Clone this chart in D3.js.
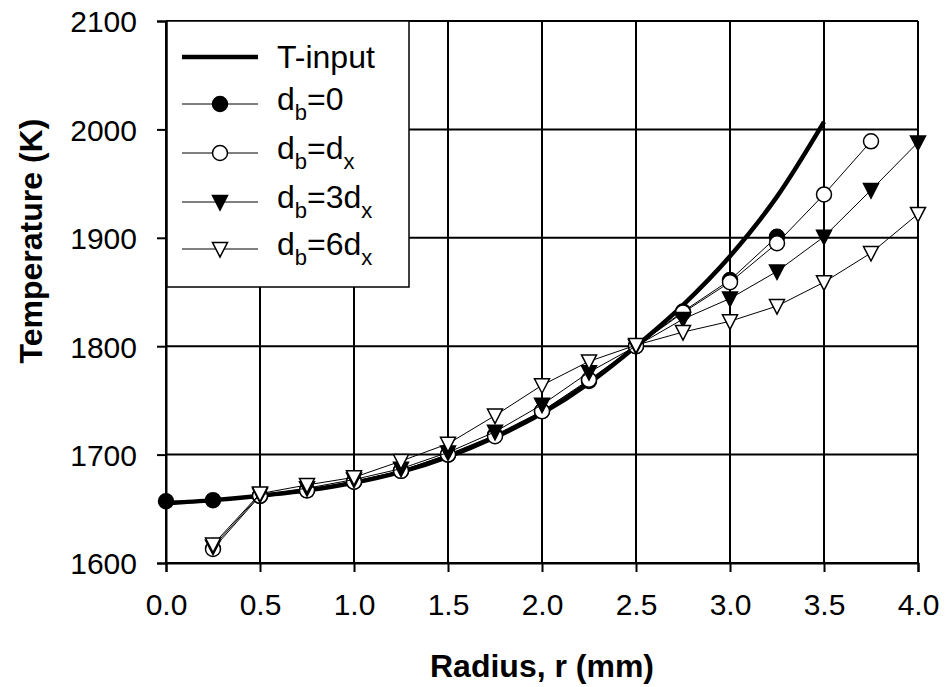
<!DOCTYPE html>
<html>
<head>
<meta charset="utf-8">
<script src="https://cdn.jsdelivr.net/npm/d3@7"></script>
<style>
    body { margin: 0; background: #fff; }
    text { font-family: Arial, "Liberation Sans", sans-serif; fill: #000; }
</style>
</head>
<body>
<div id="chart"></div>
<script>
// radius positions (mm)
const radii = [0, 0.25, 0.5, 0.75, 1.0, 1.25, 1.5, 1.75, 2.0, 2.25, 2.5, 2.75, 3.0, 3.25, 3.5, 3.75, 4.0];

// input temperature profile (K), r = 0 .. 3.5
const tInput = [1655, 1658, 1662, 1667, 1674, 1684, 1698, 1716, 1738, 1766, 1800, 1838, 1883, 1938, 2007];

// computed profiles, first value belongs to radii[start]
const db0 = [1657, 1658, 1662, 1667, 1675, 1685, 1700, 1718, 1740, 1768, 1800, 1832, 1861, 1901];
const dbDx = [1613, 1662, 1667, 1675, 1685, 1700, 1717, 1740, 1769, 1800, 1831, 1859, 1895, 1940, 1989];
const db3Dx = [1615, 1663, 1669, 1677, 1687, 1702, 1721, 1746, 1776, 1800, 1825, 1844, 1869, 1901, 1944, 1988];
const db6Dx = [1617, 1664, 1672, 1679, 1694, 1710, 1736, 1764, 1786, 1801, 1813, 1823, 1837, 1859, 1886, 1922];

const xTicks = [0, 0.5, 1.0, 1.5, 2.0, 2.5, 3.0, 3.5, 4.0];
const yTicks = [1600, 1700, 1800, 1900, 2000, 2100];

const width = 947, height = 687;
const margin = {top: 21, right: 29, bottom: 124, left: 166};
const plotW = width - margin.left - margin.right;
const plotH = height - margin.top - margin.bottom;

const x = d3.scaleLinear().domain([0, 4]).range([0, plotW]);
const y = d3.scaleLinear().domain([1600, 2100]).range([plotH, 0]);

function toPoints(values, start) {
    return values.map(function (v, i) {
        return {r: radii[start + i], t: v};
    });
}

const series = [
    {name: "T-input", data: toPoints(tInput, 0), marker: null, thick: true},
    {name: "0", data: toPoints(db0, 0), marker: "circle", fill: "#000"},
    {name: "dx", data: toPoints(dbDx, 1), marker: "circle", fill: "#fff"},
    {name: "3dx", data: toPoints(db3Dx, 1), marker: "triangle", fill: "#000"},
    {name: "6dx", data: toPoints(db6Dx, 1), marker: "triangle", fill: "#fff"}
];

const svg = d3.select("#chart")
    .append("svg")
    .attr("width", width)
    .attr("height", height);

const g = svg.append("g")
    .attr("transform", "translate(" + margin.left + "," + margin.top + ")");

// grid
g.append("g")
    .selectAll("line")
    .data(yTicks)
    .join("line")
    .attr("x1", 0)
    .attr("x2", plotW)
    .attr("y1", d => y(d))
    .attr("y2", d => y(d))
    .attr("stroke", "#000")
    .attr("stroke-width", 2);

g.append("g")
    .selectAll("line")
    .data(xTicks)
    .join("line")
    .attr("x1", d => x(d))
    .attr("x2", d => x(d))
    .attr("y1", 0)
    .attr("y2", plotH)
    .attr("stroke", "#000")
    .attr("stroke-width", 2);

// axes
const xAxis = g.append("g")
    .attr("transform", "translate(0," + plotH + ")")
    .call(d3.axisBottom(x).tickValues(xTicks).tickFormat(d3.format(".1f")).tickSize(9).tickPadding(22));

const yAxis = g.append("g")
    .call(d3.axisLeft(y).tickValues(yTicks).tickFormat(d3.format("d")).tickSize(9).tickPadding(20));

[xAxis, yAxis].forEach(function (ax) {
    ax.select(".domain").attr("stroke", "#000").attr("stroke-width", 2);
    ax.selectAll(".tick line").attr("stroke", "#000").attr("stroke-width", 2);
    ax.selectAll(".tick text")
        .style("font-family", "Arial, 'Liberation Sans', sans-serif")
        .style("font-size", "30px")
        .attr("fill", "#000");
});
yAxis.selectAll(".tick text").attr("dy", "0.36em");

// axis titles
svg.append("text")
    .attr("x", margin.left + plotW / 2)
    .attr("y", 677)
    .attr("text-anchor", "middle")
    .style("font-size", "32px")
    .style("font-weight", "bold")
    .text("Radius, r (mm)");

svg.append("text")
    .attr("transform", "translate(42," + 241 + ") rotate(-90)")
    .attr("text-anchor", "middle")
    .style("font-size", "32px")
    .style("font-weight", "bold")
    .text("Temperature (K)");

const line = d3.line()
    .x(d => x(d.r))
    .y(d => y(d.t));

const smooth = d3.line()
    .curve(d3.curveMonotoneX)
    .x(d => x(d.r))
    .y(d => y(d.t));

const triangle = "M-7.5,-6.5L7.5,-6.5L0,8Z";

function drawMarker(sel, s) {
    if (s.marker === "circle") {
        sel.append("circle")
            .attr("r", 7.5)
            .attr("fill", s.fill)
            .attr("stroke", "#000")
            .attr("stroke-width", 1.5);
    } else if (s.marker === "triangle") {
        sel.append("path")
            .attr("d", triangle)
            .attr("fill", s.fill)
            .attr("stroke", "#000")
            .attr("stroke-width", 1.5);
    }
}

// series
series.forEach(function (s) {
    g.append("path")
        .datum(s.data)
        .attr("fill", "none")
        .attr("stroke", "#000")
        .attr("stroke-width", s.thick ? 4.5 : 1)
        .attr("stroke-linejoin", "round")
        .attr("d", s.thick ? smooth : line);

    if (s.marker) {
        g.append("g")
            .selectAll("g")
            .data(s.data)
            .join("g")
            .attr("transform", d => "translate(" + x(d.r) + "," + y(d.t) + ")")
            .each(function () {
                drawMarker(d3.select(this), s);
            });
    }
});

// legend
const legend = svg.append("g");
legend.append("rect")
    .attr("x", 167)
    .attr("y", 21)
    .attr("width", 242)
    .attr("height", 266)
    .attr("fill", "#fff")
    .attr("stroke", "#000")
    .attr("stroke-width", 1.5);

const rowY = [57, 104, 153, 202, 249];
series.forEach(function (s, i) {
    let row = legend.append("g").attr("transform", "translate(0," + rowY[i] + ")");
    row.append("line")
        .attr("x1", 182)
        .attr("x2", 258)
        .attr("stroke", "#000")
        .attr("stroke-width", s.thick ? 4.5 : 1);

    if (s.marker) {
        drawMarker(row.append("g").attr("transform", "translate(220,0)"), s);
    }

    let label = row.append("text")
        .attr("x", 277)
        .attr("y", s.thick ? 11 : 6)
        .style("font-size", "32px");

    if (s.thick) {
        label.text(s.name);
        return;
    }
    label.append("tspan").text("d");
    label.append("tspan").attr("dy", 10).style("font-size", "22px").text("b");
    if (s.name === "0") {
        label.append("tspan").attr("dy", -10).text("=0");
    } else {
        label.append("tspan").attr("dy", -10).text("=" + s.name.replace("dx", "d"));
        label.append("tspan").attr("dy", 10).style("font-size", "22px").text("x");
    }
});
</script>
</body>
</html>
